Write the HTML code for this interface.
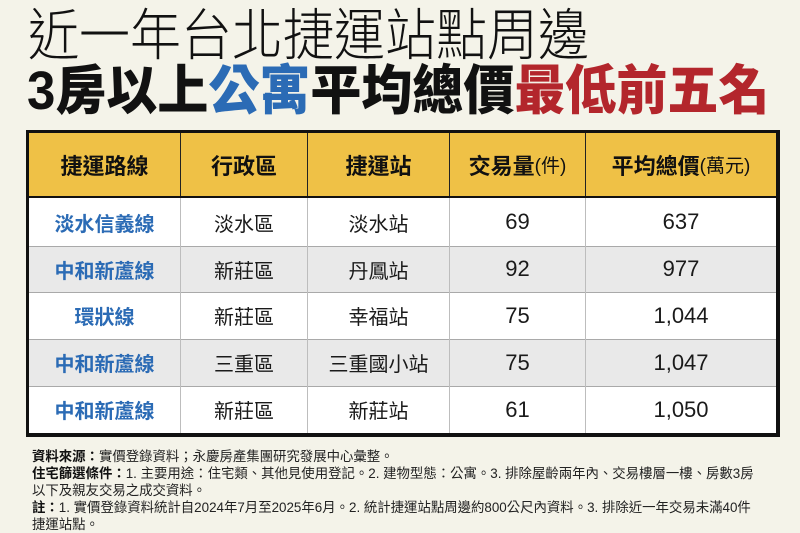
<!DOCTYPE html>
<html>
<head>
<meta charset="utf-8">
<style>
  html,body{margin:0;padding:0;}
  body{width:800px;height:531px;background:#f4f3e9;position:relative;overflow:hidden;
    font-family:"Liberation Sans","Noto Sans CJK TC",sans-serif;color:#1a1a1a;}
  .t1{position:absolute;left:28px;top:6px;font-size:51px;line-height:51px;font-weight:300;white-space:nowrap;
    font-family:"Noto Sans CJK TC",sans-serif;color:#111;transform:scaleY(1.1);transform-origin:0 50%;}
  .t2{position:absolute;left:27px;top:65px;font-size:51px;line-height:51px;font-weight:900;white-space:nowrap;
    font-family:"Liberation Sans","Noto Sans CJK TC",sans-serif;color:#111;transform:scaleY(1.05);transform-origin:0 50%;}
  .blue{color:#2b6bb5;}
  .red{color:#b3262c;}
  .tbl{position:absolute;left:26px;top:130px;width:747px;height:300px;border:3px solid #111;border-right-width:4px;border-bottom-width:4px;background:#fff;}
  .hdr{position:absolute;left:0;top:0;width:747px;height:63px;background:#efc146;border-bottom:2px solid #111;}
  .row{position:absolute;left:0;width:747px;}
  .gray{background:#e9e9e9;}
  .hl{position:absolute;left:0;width:747px;height:0;border-top:1.5px solid #a9a9a9;}
  .vl{position:absolute;width:0;border-left:1.5px solid #bdbdbd;}
  .vlh{position:absolute;width:0;border-left:1.5px solid #222;top:0;height:63px;}
  .cell{position:absolute;display:flex;align-items:center;justify-content:center;white-space:nowrap;}
  .h{font-size:22px;font-weight:700;color:#111;font-family:"Liberation Sans","Noto Sans CJK TC",sans-serif;}
  .h small{font-size:19px;font-weight:400;}
  .c1{font-size:20px;font-weight:700;color:#2b6bb5;font-family:"Noto Sans CJK TC",sans-serif;}
  .cz{font-size:20px;font-weight:400;color:#1a1a1a;font-family:"Noto Sans CJK TC",sans-serif;}
  .num{font-size:22px;color:#1a1a1a;font-family:"Liberation Sans",sans-serif;}
  .foot{position:absolute;left:32px;top:448px;font-size:13.4px;line-height:17px;white-space:nowrap;color:#222;
    font-family:"Liberation Sans","Noto Sans CJK TC",sans-serif;}
  .foot b{font-weight:700;color:#111;}
</style>
</head>
<body>
<div class="t1">近一年台北捷運站點周邊</div>
<div class="t2">3房以上<span class="blue">公寓</span>平均總價<span class="red">最低前五名</span></div>

<div class="tbl">
  <div class="hdr"></div>
  <div class="row" style="top:65px;height:48px;background:#fff;"></div>
  <div class="row gray" style="top:113px;height:46px;"></div>
  <div class="row" style="top:159px;height:47px;background:#fff;"></div>
  <div class="row gray" style="top:206px;height:47px;"></div>
  <div class="row" style="top:253px;height:47px;background:#fff;"></div>

  <div class="hl" style="top:113px;"></div>
  <div class="hl" style="top:159px;"></div>
  <div class="hl" style="top:206px;"></div>
  <div class="hl" style="top:253px;"></div>

  <div class="vlh" style="left:151px;"></div>
  <div class="vlh" style="left:278px;"></div>
  <div class="vlh" style="left:420px;"></div>
  <div class="vlh" style="left:556px;"></div>
  <div class="vl" style="left:151px;top:65px;height:235px;"></div>
  <div class="vl" style="left:278px;top:65px;height:235px;"></div>
  <div class="vl" style="left:420px;top:65px;height:235px;"></div>
  <div class="vl" style="left:556px;top:65px;height:235px;"></div>

  <!-- header -->
  <div class="cell h" style="left:0;width:151px;top:0;height:63px;">捷運路線</div>
  <div class="cell h" style="left:152px;width:126px;top:0;height:63px;">行政區</div>
  <div class="cell h" style="left:279px;width:141px;top:0;height:63px;">捷運站</div>
  <div class="cell h" style="left:421px;width:135px;top:0;height:63px;">交易量<small>(件)</small></div>
  <div class="cell h" style="left:557px;width:190px;top:0;height:63px;">平均總價<small>(萬元)</small></div>

  <!-- row 1 -->
  <div class="cell c1" style="left:0;width:151px;top:65px;height:48px;">淡水信義線</div>
  <div class="cell cz" style="left:152px;width:126px;top:65px;height:48px;">淡水區</div>
  <div class="cell cz" style="left:279px;width:141px;top:65px;height:48px;">淡水站</div>
  <div class="cell num" style="left:421px;width:135px;top:65px;height:48px;">69</div>
  <div class="cell num" style="left:557px;width:190px;top:65px;height:48px;">637</div>
  <!-- row 2 -->
  <div class="cell c1" style="left:0;width:151px;top:113px;height:46px;">中和新蘆線</div>
  <div class="cell cz" style="left:152px;width:126px;top:113px;height:46px;">新莊區</div>
  <div class="cell cz" style="left:279px;width:141px;top:113px;height:46px;">丹鳳站</div>
  <div class="cell num" style="left:421px;width:135px;top:113px;height:46px;">92</div>
  <div class="cell num" style="left:557px;width:190px;top:113px;height:46px;">977</div>
  <!-- row 3 -->
  <div class="cell c1" style="left:0;width:151px;top:159px;height:47px;">環狀線</div>
  <div class="cell cz" style="left:152px;width:126px;top:159px;height:47px;">新莊區</div>
  <div class="cell cz" style="left:279px;width:141px;top:159px;height:47px;">幸福站</div>
  <div class="cell num" style="left:421px;width:135px;top:159px;height:47px;">75</div>
  <div class="cell num" style="left:557px;width:190px;top:159px;height:47px;">1,044</div>
  <!-- row 4 -->
  <div class="cell c1" style="left:0;width:151px;top:206px;height:47px;">中和新蘆線</div>
  <div class="cell cz" style="left:152px;width:126px;top:206px;height:47px;">三重區</div>
  <div class="cell cz" style="left:279px;width:141px;top:206px;height:47px;">三重國小站</div>
  <div class="cell num" style="left:421px;width:135px;top:206px;height:47px;">75</div>
  <div class="cell num" style="left:557px;width:190px;top:206px;height:47px;">1,047</div>
  <!-- row 5 -->
  <div class="cell c1" style="left:0;width:151px;top:253px;height:47px;">中和新蘆線</div>
  <div class="cell cz" style="left:152px;width:126px;top:253px;height:47px;">新莊區</div>
  <div class="cell cz" style="left:279px;width:141px;top:253px;height:47px;">新莊站</div>
  <div class="cell num" style="left:421px;width:135px;top:253px;height:47px;">61</div>
  <div class="cell num" style="left:557px;width:190px;top:253px;height:47px;">1,050</div>
</div>

<div class="foot">
<b>資料來源：</b>實價登錄資料；永慶房產集團研究發展中心彙整。<br>
<b>住宅篩選條件：</b>1. 主要用途：住宅類、其他見使用登記。2. 建物型態：公寓。3. 排除屋齡兩年內、交易樓層一樓、房數3房<br>
以下及親友交易之成交資料。<br>
<b>註：</b>1. 實價登錄資料統計自2024年7月至2025年6月。2. 統計捷運站點周邊約800公尺內資料。3. 排除近一年交易未滿40件<br>
捷運站點。
</div>
</body>
</html>
